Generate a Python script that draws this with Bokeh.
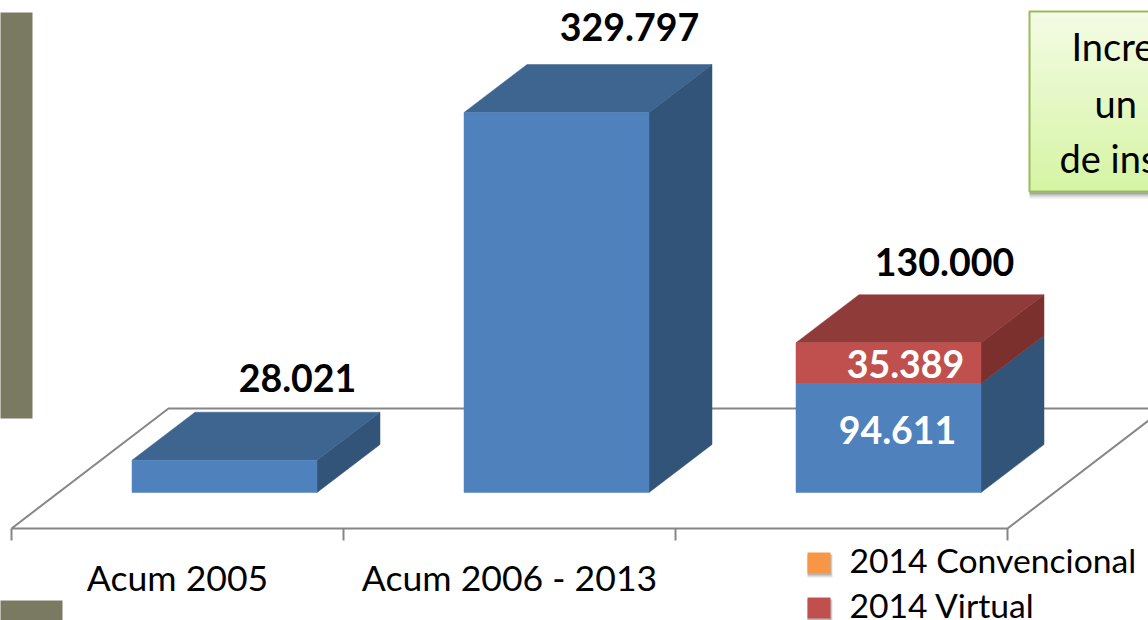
from bokeh.plotting import figure
from bokeh.models import Range1d
from bokeh.core.properties import value
from bokeh.embed import file_html
from bokeh.resources import INLINE

# ---- data ----
categories = ["Acum 2005", "Acum 2006 - 2013"]
blue_values = [28021, 329797, 94611]
red_values = [0, 0, 35389]
total_labels = ["28.021", "329.797", "130.000"]
blue_label = "94.611"
red_label = "35.389"
legend_names = ["2014 Convencional", "2014 Virtual"]
box_lines = ["Incre", "un", "de ins"]

# ---- layout ----
W, H = 1148, 620
PX_X = 332.0            # px per category
PX_Y = 380.0 / 329797   # px per value unit
X0, Y0 = 224.0, 492.0   # category 0 centre, bar base (px)


def dx(px):
    return (px - X0) / PX_X


def dy(py):
    return (Y0 - py) / PX_Y


BW = 185 / PX_X / 2
DX = 63 / PX_X
DY = 48 / PX_Y
FONT = value("Lato")

BLUE = ("#4F81BD", "#3E6490", "#335479")
RED = ("#C0504D", "#8F3B39", "#7B302E")
GRID = "#868686"
OLIVE = "#7A7A62"

p = figure(width=W, height=H, x_range=Range1d(dx(0), dx(W)), y_range=Range1d(dy(H), dy(0)),
           output_backend="svg", toolbar_location=None, min_border=0,
           outline_line_color=None, background_fill_color="white", border_fill_color="white")
p.axis.visible = False
p.grid.visible = False

# side panels
p.quad(left=dx(-6), right=dx(32), top=dy(12), bottom=dy(418), fill_color=OLIVE, line_color=None)
p.quad(left=dx(-6), right=dx(62), top=dy(600), bottom=dy(H + 6), fill_color=OLIVE, line_color=None)

# floor
fx = [dx(1148), dx(168), dx(11), dx(1007), dx(1148)]
fy = [dy(408), dy(408), dy(528), dy(528), dy(420)]
p.line(fx, fy, line_color=GRID, line_width=2)
for tick in (11, 343, 675, 1007):
    p.segment(dx(tick), dy(528), dx(tick), dy(540), line_color=GRID, line_width=2)


def block(cx, y0, y1, cols, top=True):
    l, r = cx - BW, cx + BW
    p.patch([r, r + DX, r + DX, r], [y0, y0 + DY, y1 + DY, y1], color=cols[2], line_width=0.5)
    if top:
        p.patch([l, l + DX, r + DX, r], [y1, y1 + DY, y1 + DY, y1], color=cols[1], line_width=0.5)
    p.quad(left=l, right=r, bottom=y0, top=y1, color=cols[0], line_width=0.5)


for i, (b, r) in enumerate(zip(blue_values, red_values)):
    block(i, 0, b, BLUE, top=(r == 0))
    if r:
        block(i, b, b + r, RED)

# labels
bold = dict(text_font=FONT, text_font_style="bold", text_align="center",
            text_baseline="middle", text_font_size="37.5px")
tops = [b + r for b, r in zip(blue_values, red_values)]
for i, (t, lab, ox, oy) in enumerate(zip(tops, total_labels, (73, 73, 56), (82, 86, 81))):
    p.text([i + ox / PX_X], [t + oy / PX_Y], text=[lab], text_color="black", **bold)
p.text([2 + 9 / PX_X], [dy(429)], text=[blue_label], text_color="white", **bold)
p.text([2 + 17 / PX_X], [dy(363)], text=[red_label], text_color="white", **bold)

reg = dict(text_font=FONT, text_baseline="middle", text_color="black")
for i, c in enumerate(categories):
    p.text([i - 47 / PX_X], [dy(577)], text=[c], text_align="center", text_font_size="35.6px", **reg)

# legend
for py, col, name in zip((552, 597), ("#F79646", "#C0504D"), legend_names):
    for k, a in ((4, .12), (2, .18)):
        p.quad(left=dx(807), right=dx(830 + k / 2), top=dy(py + 2), bottom=dy(py + 21 + k), color="black", alpha=a, line_width=0)
    p.quad(left=dx(807), right=dx(830), top=dy(py), bottom=dy(py + 21), fill_color=col, line_color=None)
    p.text([dx(849)], [dy(py + 7)], text=[name], text_align="left", text_font_size="33.7px", **reg)

# note box with shadow and gradient (each band runs to the box bottom, so no seams show)
for k, a in ((6, .08), (4, .12), (2, .18)):
    p.quad(left=dx(1029), right=dx(1154), top=dy(16), bottom=dy(192 + k), color="black", alpha=a, line_width=0)
N = 30
c0, c1 = (243, 252, 228), (214, 245, 165)
for j in range(N):
    t = j / (N - 1)
    col = "#%02x%02x%02x" % tuple(int(a + (b - a) * t) for a, b in zip(c0, c1))
    p.quad(left=dx(1029), right=dx(1154), top=dy(12 + 178 * j / N), bottom=dy(190), fill_color=col, line_color=None)
p.line([dx(1154), dx(1029), dx(1029), dx(1154)], [dy(11), dy(11), dy(191), dy(191)], line_color="#9BBB59", line_width=2)
for text, x, y in zip(box_lines, (1071, 1094, 1059), (45, 102, 157)):
    p.text([dx(x)], [dy(y)], text=[text], text_align="left", text_font=FONT,
           text_baseline="middle", text_font_size="38px", text_color="black")

open("out.html", "w").write(file_html(p, INLINE))
